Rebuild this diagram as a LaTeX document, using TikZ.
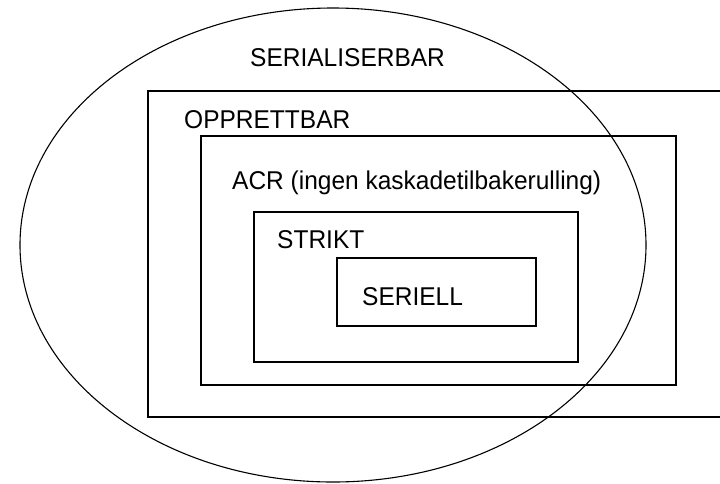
\documentclass[tikz,border=0pt]{standalone}
\usepackage{fontspec}
\setmainfont{Liberation Sans}
\begin{document}
\begin{tikzpicture}[x=1pt,y=-1pt,
  frame/.style={draw=black,line width=1.1pt},
  label/.style={anchor=base west,inner sep=0pt,yscale=1.05,font=\fontsize{24.5}{28}\selectfont}]
\useasboundingbox (0,0) rectangle (720,483);
% outermost class: serialisable schedules
\draw[frame] (333,245) ellipse [x radius=313, y radius=237];
\node[label] (ser) at (250,66) {SERIALISERBAR};
% recoverable schedules, open to the right
\draw[frame] (720,91) -- (148,91) -- (148,417) -- (720,417);
\node[label] (opp) at (184,128) {OPPRETTBAR};
% avoids cascading aborts
\draw[frame] (201,136) rectangle (676,385);
\node[label] (acr) at (232,189) {ACR (ingen kaskadetilbakerulling)};
% strict schedules
\draw[frame] (254,212) rectangle (578,362);
\node[label] (str) at (277,248) {STRIKT};
% serial schedules
\draw[frame] (337,258) rectangle (536,326);
\node[label] (sel) at (362,305) {SERIELL};
\end{tikzpicture}
\end{document}
